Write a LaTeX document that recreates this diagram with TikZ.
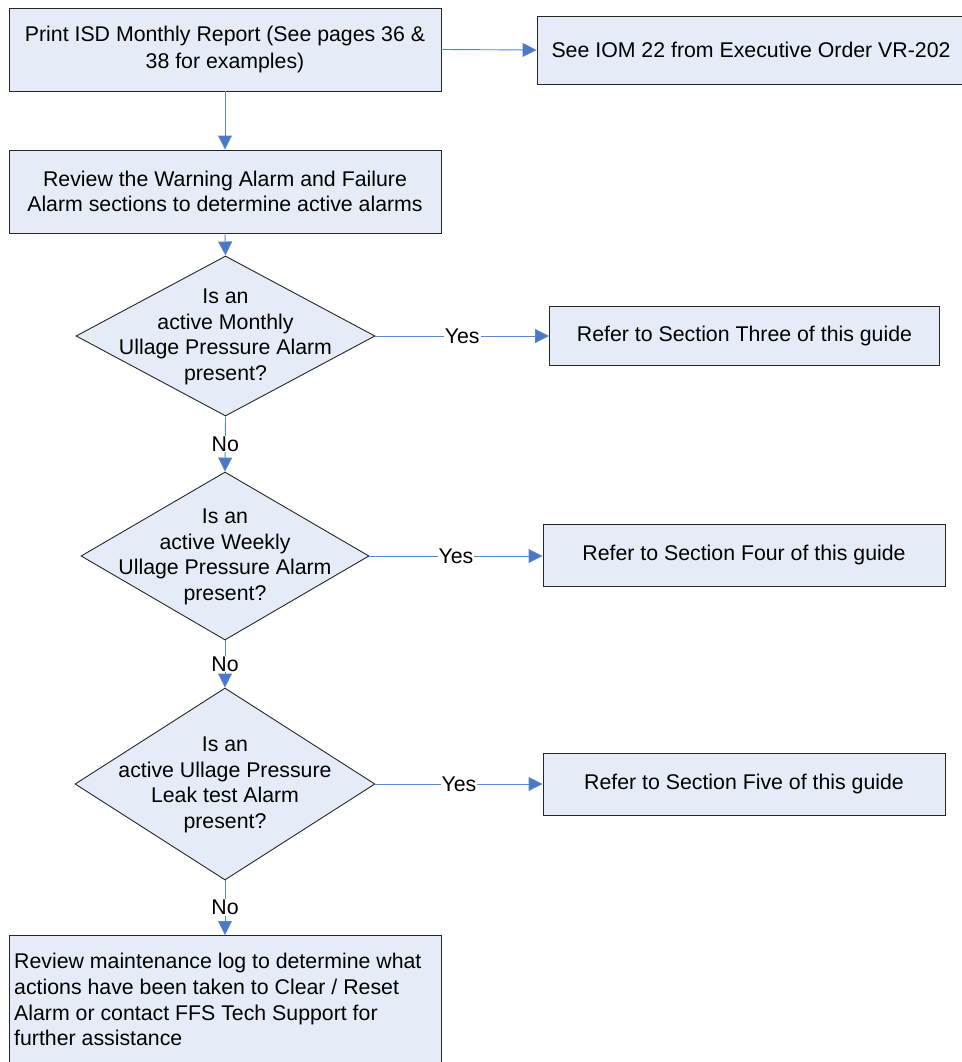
\documentclass[tikz,border=0pt]{standalone}
\usepackage{fontspec}
\setmainfont{Liberation Sans}
\usetikzlibrary{shapes.geometric,arrows.meta}
\definecolor{boxfill}{HTML}{E6ECF7}
\definecolor{flow}{HTML}{5A86CC}
\definecolor{flowhead}{HTML}{4A78C4}
\begin{document}
\begin{tikzpicture}[x=1pt,y=-1pt,
  every node/.style={font=\fontsize{21.3}{25.7}\selectfont},
  stepbox/.style={draw=black!85, line width=0.9pt, fill=boxfill, rectangle, inner sep=0pt, align=center},
  decision/.style={draw=black!85, line width=0.9pt, fill=boxfill, diamond, inner sep=0pt},
  flowline/.style={draw=flow, line width=0.9pt, -{Triangle[length=14pt,width=14pt,fill=flowhead]}},
  answer/.style={fill=white, inner sep=1pt}]
\useasboundingbox (0,0) rectangle (961,1062);

% main process boxes
\node[stepbox, minimum width=432pt, minimum height=83pt, font=\fontsize{21.3}{27}\selectfont] (print) at (225,49.5)
  {Print ISD Monthly Report (See pages 36 \&\\38 for examples)};
\node[stepbox, minimum width=428pt, minimum height=68pt] (iom) at (751,50)
  {See IOM 22 from Executive Order VR-202};
\node[stepbox, minimum width=432pt, minimum height=83pt] (review) at (225,191.5)
  {Review the Warning Alarm and Failure\\Alarm sections to determine active alarms};

% decisions
\node[decision, minimum width=299pt, minimum height=160pt] (q1) at (225.5,336) {};
\node at (225.5,337) [align=center] {Is an\\active Monthly\\Ullage Pressure Alarm\\present?};
\node[decision, minimum width=288pt, minimum height=168pt] (q2) at (225,556) {};
\node at (225,557) [align=center] {Is an\\active Weekly\\Ullage Pressure Alarm\\present?};
\node[decision, minimum width=300pt, minimum height=192pt] (q3) at (225,784) {};
\node at (225,785) [align=center] {Is an\\active Ullage Pressure\\Leak test Alarm\\present?};

% section references
\node[stepbox, minimum width=390pt, minimum height=59pt] (s3) at (744.5,335.5)
  {Refer to Section Three of this guide};
\node[stepbox, minimum width=402pt, minimum height=62pt] (s4) at (744,555)
  {Refer to Section Four of this guide};
\node[stepbox, minimum width=402pt, minimum height=62pt] (s5) at (744,784)
  {Refer to Section Five of this guide};

% final step, running past the bottom edge
\node[stepbox, minimum width=432pt, minimum height=140pt, anchor=north west] (maint) at (9,935) {};
\node[anchor=north west, align=left, inner sep=0pt] at (14,953)
  {Review maintenance log to determine what\\actions have been taken to Clear / Reset\\Alarm or contact FFS Tech Support for\\further assistance};

% connectors
\draw[flowline] (print.east) -- (iom.west);
\draw[flowline] (print.south) -- (review.north);
\draw[flowline] (review.south) -- (q1.north);
\draw[flowline] (q1.east) -- node[answer]{Yes} (s3.west |- q1.east);
\draw[flowline] (q1.south) -- node[answer]{No} (q2.north);
\draw[flowline] (q2.east) -- node[answer]{Yes} (s4.west |- q2.east);
\draw[flowline] (q2.south) -- node[answer]{No} (q3.north);
\draw[flowline] (q3.east) -- node[answer]{Yes} (s5.west |- q3.east);
\draw[flowline] (q3.south) -- node[answer]{No} (maint.north -| q3.south);
\end{tikzpicture}
\end{document}
